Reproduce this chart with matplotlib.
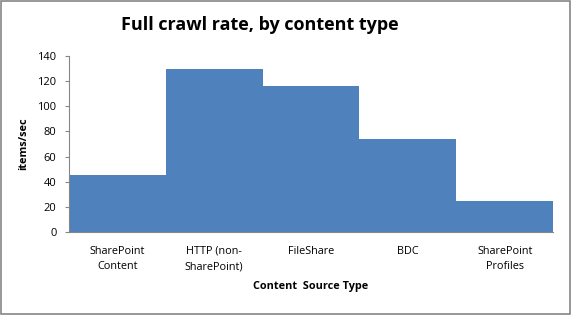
import matplotlib.pyplot as plt
import numpy as np
from matplotlib.patches import Rectangle

categories = ["SharePoint\nContent", "HTTP (non-\nSharePoint)", "FileShare", "BDC", "SharePoint\nProfiles"]
rates = [45, 130, 116, 74, 25]
y_ticks = [0, 20, 40, 60, 80, 100, 120, 140]


def plot_chart():
    plt.rcParams['font.family'] = ['Open Sans', 'DejaVu Sans']
    fig = plt.figure(figsize=(5.72, 3.15), dpi=100)
    ax = fig.add_axes([0.1206, 0.2635, 0.8464, 0.5585])

    x = np.arange(len(categories))
    ax.bar(x, rates, width=1.0, color="#4F81BD", edgecolor="#4F81BD", linewidth=0)

    ax.set_xlim(-0.5, len(categories) - 0.5)
    ax.set_ylim(0, 140)
    ax.set_yticks(y_ticks)
    ax.set_xticks(x)
    ax.set_xticklabels(categories, fontsize=7.8, linespacing=1.55)
    ax.tick_params(axis='x', length=0, pad=10)
    ax.tick_params(axis='y', labelsize=8, length=3, pad=6, color="#868686", direction='out')

    for side in ['top', 'right']:
        ax.spines[side].set_visible(False)
    ax.spines['left'].set_color("#868686")
    ax.spines['bottom'].set_color("#868686")

    ax.set_ylabel("items/sec", fontsize=7.8, fontweight='bold', labelpad=6)
    ax.set_xlabel("Content  Source Type", fontsize=7.8, fontweight='bold', labelpad=6)
    fig.text(0.455, 0.92, "Full crawl rate, by content type", fontsize=13,
             fontweight='bold', ha='center', va='center')

    fig.patches.append(Rectangle((0.002, 0.003), 0.995, 0.994, transform=fig.transFigure,
                                 fill=False, edgecolor="#868686", linewidth=1.2))
    fig.savefig("out.png", dpi=100)


if __name__ == '__main__':
    plot_chart()
